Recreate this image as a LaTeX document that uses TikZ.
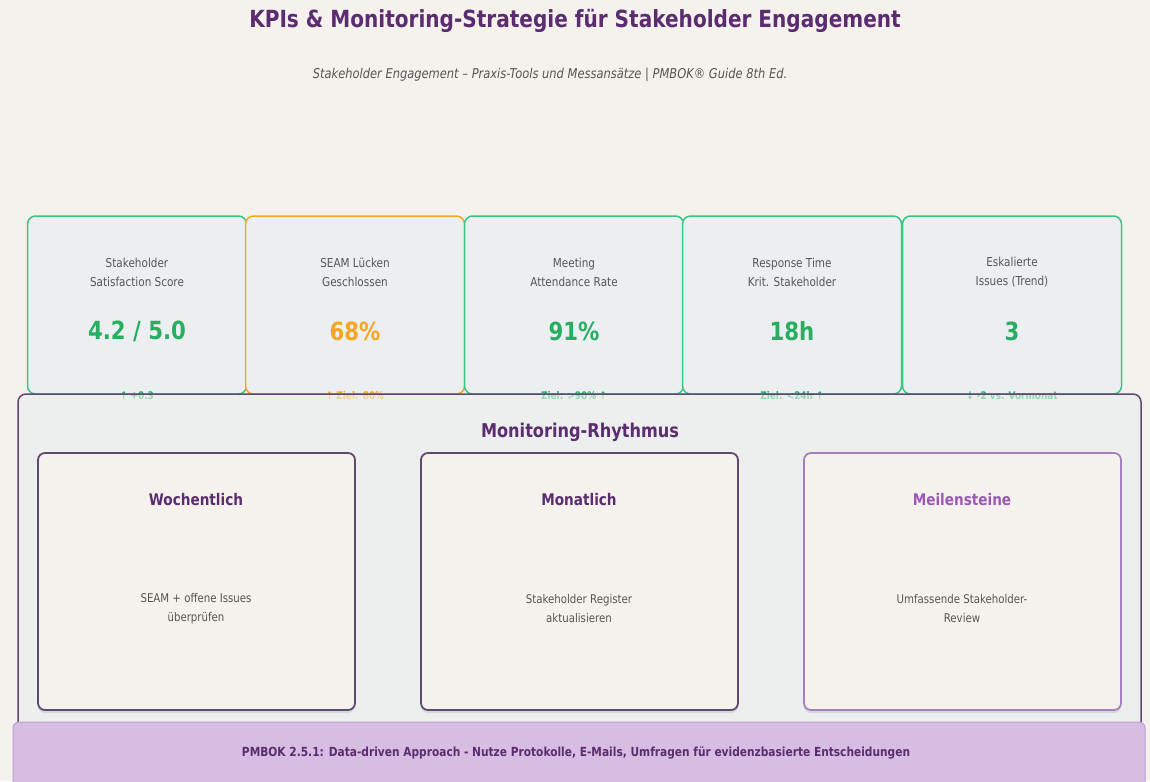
\documentclass[tikz,border=0pt]{standalone}
\usepackage{fontspec}
\setmainfont[FakeStretch=0.85]{DejaVu Sans}
\usetikzlibrary{shadows}

\definecolor{pagebg}{HTML}{F5F2EE}
\definecolor{cardbg}{HTML}{ECEFF1}
\definecolor{panelbg}{HTML}{E8ECEF}
\definecolor{kpigreen}{HTML}{3CC57F}
\definecolor{valgreen}{HTML}{27AE60}
\definecolor{kpiorange}{HTML}{F5A623}
\definecolor{darkpurple}{HTML}{5B2C6F}
\definecolor{boxpurple}{HTML}{5D4A6E}
\definecolor{lightpurple}{HTML}{A67FC0}
\definecolor{milepurple}{HTML}{9B59B6}
\definecolor{lilac}{HTML}{D7BDE2}
\definecolor{lilacedge}{HTML}{C39BD3}
\definecolor{labelgray}{HTML}{555555}

\tikzset{
  kpicard/.style={draw=#1, line width=1.5pt, fill=cardbg, rounded corners=8pt,
    minimum width=219pt, minimum height=178pt, inner sep=0pt},
  kpilabel/.style={text=labelgray, font=\fontsize{12.3}{19}\selectfont, align=center},
  kpivalue/.style={text=#1, font=\fontsize{25}{30}\selectfont\bfseries},
  kpinote/.style={text=#1, font=\fontsize{10.5}{12}\selectfont\bfseries},
  rhythmbox/.style={draw=#1, line width=1.8pt, fill=pagebg, rounded corners=7pt,
    minimum width=317pt, minimum height=257pt, inner sep=0pt,
    drop shadow={opacity=0.2, shadow xshift=0pt, shadow yshift=-3pt}},
  rhythmhead/.style={text=#1, font=\fontsize{16}{18}\selectfont\bfseries},
  rhythmtext/.style={text=labelgray, font=\fontsize{12}{19}\selectfont, align=center}
}

\begin{document}
\begin{tikzpicture}[x=1pt, y=-1pt]
\useasboundingbox (0,0) rectangle (1150,781);
\fill[pagebg] (0,0) rectangle (1150,781);

% heading
\node[text=darkpurple, font=\fontsize{23.6}{28}\selectfont\bfseries] (title) at (575,21)
  {KPIs \& Monitoring-Strategie für Stakeholder Engagement};
\node[text=labelgray, font=\fontsize{13.5}{16}\selectfont\itshape] (subtitle) at (550,75)
  {Stakeholder Engagement – Praxis-Tools und Messansätze | PMBOK® Guide 8th Ed.};

% KPI cards, drawn left to right so each one covers the previous edge
\node[kpicard=kpigreen] (card1) at (137,305) {};
\node[kpicard=kpiorange] (card2) at (355,305) {};
\node[kpicard=kpigreen] (card3) at (574,305) {};
\node[kpicard=kpigreen] (card4) at (792,305) {};
\node[kpicard=kpigreen] (card5) at (1012,305) {};

\node[kpilabel] (lab1) at (137,272) {Stakeholder\\Satisfaction Score};
\node[kpilabel] (lab2) at (355,272) {SEAM Lücken\\Geschlossen};
\node[kpilabel] (lab3) at (574,272) {Meeting\\Attendance Rate};
\node[kpilabel] (lab4) at (792,272) {Response Time\\Krit. Stakeholder};
\node[kpilabel] (lab5) at (1012,272) {Eskalierte\\Issues (Trend)};

\node[kpivalue=valgreen] (val1) at (137,331) {4.2 / 5.0};
\node[kpivalue=kpiorange] (val2) at (355,331) {68\%};
\node[kpivalue=valgreen] (val3) at (574,331) {91\%};
\node[kpivalue=valgreen] (val4) at (792,331) {18h};
\node[kpivalue=valgreen] (val5) at (1012,331) {3};

% the notes run out of the cards and get half covered by the panel
\node[kpinote=valgreen] (note1) at (137,396) {↑ +0.3};
\node[kpinote=kpiorange] (note2) at (355,396) {↑ Ziel: 80\%};
\node[kpinote=valgreen] (note3) at (574,396) {Ziel: >90\% ↑};
\node[kpinote=valgreen] (note4) at (792,396) {Ziel: <24h ↑};
\node[kpinote=valgreen] (note5) at (1012,396) {↓ -2 vs. Vormonat};

\node[draw=boxpurple, line width=1.5pt, fill=panelbg, fill opacity=0.6, draw opacity=1,
  rounded corners=8pt, minimum width=1123pt, minimum height=350pt, inner sep=0pt]
  (panel) at (579.5,569) {};
\node[text=darkpurple, font=\fontsize{19}{22}\selectfont\bfseries] (paneltitle) at (580,432)
  {Monitoring-Rhythmus};

\node[rhythmbox=boxpurple] (week) at (196.5,581.5) {};
\node[rhythmbox=boxpurple] (month) at (579.5,581.5) {};
\node[rhythmbox=lightpurple] (mile) at (962.5,581.5) {};

\node[rhythmhead=darkpurple] (weekhead) at (196,500) {Wochentlich};
\node[rhythmhead=darkpurple] (monthhead) at (579,500) {Monatlich};
\node[rhythmhead=milepurple] (milehead) at (962,500) {Meilensteine};

\node[rhythmtext] (weektext) at (196,609) {SEAM + offene Issues\\überprüfen};
\node[rhythmtext] (monthtext) at (579,609) {Stakeholder Register\\aktualisieren};
\node[rhythmtext] (miletext) at (962,609) {Umfassende Stakeholder-\\Review};

% footer note
\node[draw=lilacedge, line width=1pt, fill=lilac, rounded corners=6pt,
  minimum width=1132pt, minimum height=80pt, inner sep=0pt] (footer) at (579,762) {};
\node[text=darkpurple, font=\fontsize{12.5}{14}\selectfont\bfseries] (footertext) at (576,753)
  {PMBOK 2.5.1: Data-driven Approach - Nutze Protokolle, E-Mails, Umfragen für evidenzbasierte Entscheidungen};
\end{tikzpicture}
\end{document}
